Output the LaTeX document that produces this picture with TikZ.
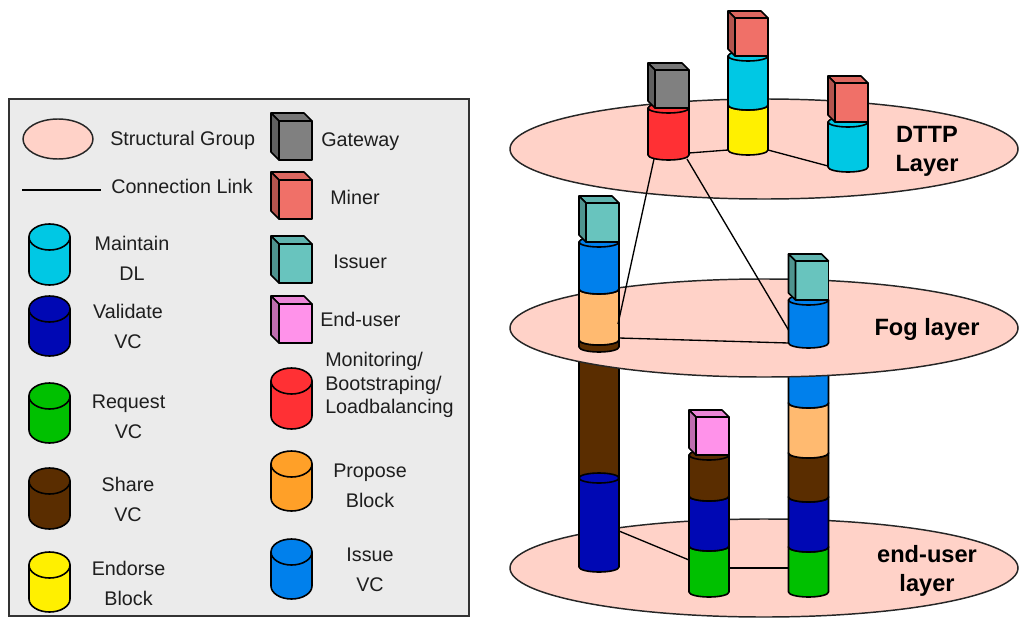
\documentclass[tikz,border=0pt]{standalone}
\usepackage{fontspec}
\setmainfont{Liberation Sans}
\definecolor{cyanc}{RGB}{0,200,228}
\definecolor{navyc}{RGB}{0,8,180}
\definecolor{greenc}{RGB}{0,192,0}
\definecolor{brownc}{RGB}{90,45,0}
\definecolor{yellowc}{RGB}{255,240,0}
\definecolor{redc}{RGB}{255,48,52}
\definecolor{orangec}{RGB}{255,160,40}
\definecolor{lorangec}{RGB}{255,186,112}
\definecolor{bluec}{RGB}{0,128,236}
\definecolor{grayc}{RGB}{128,128,128}
\definecolor{minerc}{RGB}{240,112,104}
\definecolor{issuerc}{RGB}{104,196,190}
\definecolor{userc}{RGB}{255,146,234}
\definecolor{groupc}{RGB}{255,210,200}
\definecolor{legendbg}{RGB}{235,235,235}
\definecolor{textc}{RGB}{30,30,30}
\newcommand{\mycyl}[6]{%
 \filldraw[cylline, fill=#6] (#1-#4,#2) -- (#1-#4,#3) arc[start angle=180,end angle=0,x radius=#4,y radius=#5] -- (#1+#4,#2) -- cycle;
 \filldraw[cylline, fill=#6] (#1,#2) ellipse[x radius=#4, y radius=#5];
}
\newcommand{\mycube}[6]{%
 \filldraw[cylline, fill=#6] (#1,#2) rectangle (#3,#4);
 \filldraw[cylline, fill=#6!92!black] (#1,#2) -- (#1-#5,#2-#5) -- (#3-#5,#2-#5) -- (#3,#2) -- cycle;
 \filldraw[cylline, fill=#6!75!black] (#1,#2) -- (#1-#5,#2-#5) -- (#1-#5,#4-#5) -- (#1,#4) -- cycle;
}
\tikzset{
 cylline/.style={draw=black, line width=1.2pt, line join=round},
 group/.style={fill=groupc, draw=black!85, line width=1.1pt},
 link/.style={draw=black, line width=1pt},
 lbl/.style={text=textc, font=\fontsize{14.8}{22.5}\selectfont, inner sep=0pt},
 lyr/.style={text=black, font=\fontsize{17.7}{21.5}\selectfont\bfseries, inner sep=0pt, align=center},
}
\begin{document}
\begin{tikzpicture}[x=0.75pt, y=-0.75pt]
\useasboundingbox (0,0) rectangle (1019,617);
% legend
\filldraw[fill=legendbg, draw=black!80, line width=1.1pt] (9,99) rectangle (469,616);
\filldraw[group] (58,139) ellipse[x radius=35, y radius=20];
\node[lbl, anchor=west] (tsg) at (110,140) {Structural Group};
\coordinate (la) at (22,190); \coordinate (lb) at (101,190);
\draw[link] (la) -- (lb);
\node[lbl, anchor=west] (tcl) at (111,186) {Connection Link};
\mycyl{49.5}{237}{272}{20.5}{13}{cyanc}
\node[lbl, align=center] (tmd) at (132,258) {Maintain\\DL};
\mycyl{49.5}{309}{343}{20.5}{13}{navyc}
\node[lbl, align=center] (tvv) at (128,326) {Validate\\VC};
\mycyl{49.5}{396}{430}{20.5}{13}{greenc}
\node[lbl, align=center] (trv) at (128.5,416.5) {Request\\VC};
\mycyl{49.5}{481}{516}{20.5}{13}{brownc}
\node[lbl, align=center] (tsv) at (128,499.5) {Share\\VC};
\mycyl{49.5}{565}{599}{20.5}{13}{yellowc}
\node[lbl, align=center] (teb) at (128.5,583.5) {Endorse\\Block};
\mycube{279}{121}{312}{160}{8}{grayc}
\node[lbl, anchor=west] (tgw) at (321,142) {Gateway};
\mycube{279}{180}{312}{219}{8}{minerc}
\node[lbl, anchor=west] (tmi) at (330,197) {Miner};
\mycube{279}{244}{312}{283}{8}{issuerc}
\node[lbl, anchor=west] (tis) at (333,262) {Issuer};
\mycube{279}{304}{312}{343}{8}{userc}
\node[lbl, anchor=west] (teu) at (320,319) {End-user};
\mycyl{291.5}{381}{416}{20.5}{13}{redc}
\node[lbl, anchor=west, align=left, font=\fontsize{14.8}{17.6}\selectfont] (tmo) at (325,385) {Monitoring/\\Bootstraping/\\Loadbalancing};
\mycyl{291.5}{464}{498}{20.5}{13}{orangec}
\node[lbl, align=center] (tpb) at (370,486) {Propose\\Block};
\mycyl{291.5}{552}{586}{20.5}{13}{bluec}
\node[lbl, align=center] (tiv) at (370,570) {Issue\\VC};
% end-user layer
\filldraw[group] (764,568) ellipse[x radius=254, y radius=49];
\node[lyr] (tel) at (927,571) {end-user\\layer};
\mycyl{599}{350}{478}{20}{5}{brownc}
\mycyl{599}{478}{567}{20}{5}{navyc}
\mycyl{709}{546}{592}{20}{5}{greenc}
\mycyl{709}{496}{546}{20}{5}{navyc}
\mycyl{709}{455}{496}{20}{5}{brownc}
\mycube{696}{417}{729}{455}{7}{userc}
\mycyl{808.5}{547}{592}{20}{5}{greenc}
\mycyl{808.5}{497}{547}{20}{5}{navyc}
\mycyl{808.5}{453}{497}{20}{5}{brownc}
\mycyl{808.5}{403}{453}{20}{5}{lorangec}
\mycyl{808.5}{350}{403}{20}{5}{bluec}
\coordinate (e1) at (619,531); \coordinate (e2) at (689,560);
\coordinate (e3) at (729,568); \coordinate (e4) at (788.5,568);
\draw[link] (e1) -- (e2);
\draw[link] (e3) -- (e4);
% fog layer
\filldraw[group] (764,328) ellipse[x radius=254, y radius=49];
\node[lyr] (tfl) at (927,329) {Fog layer};
\mycyl{599}{340}{347}{20}{5}{brownc}
\mycyl{599}{289}{340}{20}{5}{lorangec}
\mycyl{599}{242}{289}{20}{5}{bluec}
\mycube{586}{203}{619}{242}{7}{issuerc}
\mycyl{808.5}{300}{343}{20}{5}{bluec}
\mycube{795.5}{261}{828.5}{300}{7}{issuerc}
\coordinate (f1) at (619,338); \coordinate (f2) at (788.5,343);
\draw[link] (f1) -- (f2);
% DTTP layer
\filldraw[group] (764,149) ellipse[x radius=254, y radius=50];
\node[lyr] (tdl) at (927,151) {DTTP\\Layer};
\mycyl{668.5}{108}{155}{20.5}{5}{redc}
\mycube{655}{70}{689}{108}{7}{grayc}
\mycyl{748}{105}{150}{20}{5}{yellowc}
\mycyl{748}{56}{105}{20}{5}{cyanc}
\mycube{735}{18}{768}{56}{7}{minerc}
\mycyl{848}{122}{167}{20}{5}{cyanc}
\mycube{835}{83}{868}{122}{7}{minerc}
\coordinate (d1) at (689,153); \coordinate (d2) at (728,150);
\coordinate (d3) at (768,150); \coordinate (d4) at (828,166);
\draw[link] (d1) -- (d2);
\draw[link] (d3) -- (d4);
\coordinate (r1) at (654,159); \coordinate (r2) at (687,159);
\coordinate (g1) at (618,324); \coordinate (g2) at (788.5,330);
\draw[link] (r1) -- (g1);
\draw[link] (r2) -- (g2);
\end{tikzpicture}
\end{document}
